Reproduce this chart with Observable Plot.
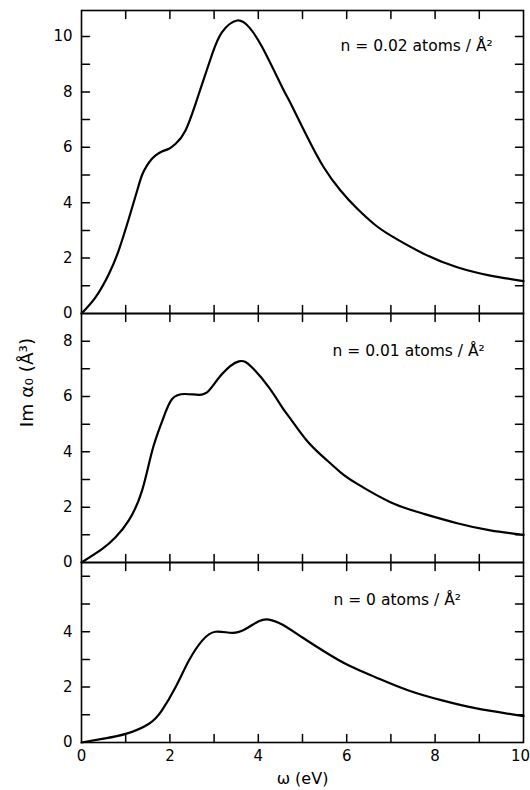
<!DOCTYPE html>
<html><head><meta charset="utf-8">
<script src="https://cdn.jsdelivr.net/npm/d3@7"></script>
<script src="https://cdn.jsdelivr.net/npm/@observablehq/plot@0.6"></script>
<style>
body{margin:0;background:#fff;}
#chart{position:relative;width:530px;height:790px;font-family:"DejaVu Sans",sans-serif;}
#chart svg{position:absolute;left:0;overflow:visible;}
</style></head><body><div id="chart"></div>
<script>
// n = 0.02 atoms/Å^2
const omega02 = [0,0.32,0.62,0.84,1.07,1.26,1.37,1.48,1.58,1.67,1.82,1.98,2.13,2.35,2.58,2.73,2.96,3.18,3.52,3.79,4.09,4.54,4.73,5.1,5.48,5.86,6.24,6.61,6.99,7.74,8.5,9.25,10];
const im02    = [0,0.59,1.43,2.27,3.42,4.44,5.0,5.34,5.56,5.70,5.85,5.95,6.13,6.6,7.57,8.29,9.38,10.16,10.58,10.34,9.61,8.17,7.59,6.4,5.28,4.44,3.78,3.24,2.82,2.16,1.67,1.37,1.17];
// n = 0.01 atoms/Å^2
const omega01 = [0,0.47,0.77,1.07,1.37,1.6,1.83,2.05,2.35,2.65,2.88,3.18,3.56,3.86,4.24,4.54,4.73,5.1,5.48,5.86,6.24,6.99,7.74,8.5,9.25,10];
const im01    = [0,0.49,0.91,1.52,2.6,4.04,5.13,5.91,6.09,6.06,6.21,6.81,7.27,7.05,6.33,5.61,5.19,4.4,3.8,3.26,2.84,2.18,1.76,1.42,1.16,1.0];
// n = 0 atoms/Å^2
const omega0 = [0,0.5,1.0,1.52,1.82,2.13,2.43,2.73,3.03,3.41,3.71,4.01,4.24,4.54,4.99,5.52,6.05,6.65,7.4,8.16,8.91,10];
const im0    = [0,0.14,0.31,0.67,1.16,2.0,2.96,3.68,4.0,3.96,4.1,4.38,4.44,4.26,3.8,3.26,2.78,2.36,1.88,1.52,1.24,0.95];

const xTicks = [1,2,3,4,5,6,7,8,9];
const xLabels = [0,2,4,6,8];
const xLabelLast = [10];
const yTicks02 = [1,2,3,4,5,6,7,8,9,10];
const yLabels02 = [0,2,4,6,8,10];
const yTicks01 = [1,2,3,4,5,6,7,8];
const yLabels01 = [0,2,4,6,8];
const yTicks0 = [1,2,3,4,5,6];
const yLabels0 = [0,2,4];
const notes = ["n = 0.02 atoms / Å²", "n = 0.01 atoms / Å²", "n = 0 atoms / Å²"];
const xTitle = "ω (eV)";
const yTitle = "Im α₀ (Å³)";

const tickShape = {draw(ctx, l) { ctx.moveTo(0, 0); ctx.lineTo(0, -l); }};
const TL = 8;

function panel({xs, ys, ymax, yTicks, yLabels, note, noteX, noteY, top, height, marginTop, marginBottom, bottom, title}) {
  const marks = [
    Plot.frame({stroke: "black", strokeWidth: 1.6}),
    Plot.axisY({ticks: yLabels, tickSize: 0, tickPadding: 9, tickFormat: d => String(d), fontSize: 15, label: null}),
    Plot.vector(yTicks, {x: 0, y: d => d, length: TL, rotate: 90, anchor: "start", shape: tickShape, stroke: "black", strokeWidth: 1.5}),
    Plot.vector(yTicks, {x: 10, y: d => d, length: TL, rotate: -90, anchor: "start", shape: tickShape, stroke: "black", strokeWidth: 1.5}),
    Plot.vector(xTicks, {x: d => d, y: ymax, length: TL, rotate: 180, anchor: "start", shape: tickShape, stroke: "black", strokeWidth: 1.5}),
    Plot.vector(xTicks, {x: d => d, y: 0, length: TL, rotate: 0, anchor: "start", shape: tickShape, stroke: "black", strokeWidth: 1.5}),
    Plot.line({length: xs.length}, {x: xs, y: ys, curve: "natural", stroke: "black", strokeWidth: 2.2}),
    Plot.text([note], {x: noteX, y: noteY, text: d => d, textAnchor: "start", lineAnchor: "middle", fontSize: 15.5, fill: "black"})
  ];
  if (bottom) {
    marks.push(Plot.axisX({ticks: xLabels, tickSize: 0, tickPadding: 8, tickFormat: d => String(d), fontSize: 15, label: null}));
    marks.push(Plot.axisX({ticks: xLabelLast, tickSize: 0, tickPadding: 8, tickFormat: d => String(d), fontSize: 15, dx: -3, label: null}));
    marks.push(Plot.text([xTitle], {frameAnchor: "bottom", dy: 36, text: d => d, textAnchor: "middle", lineAnchor: "middle", fontSize: 16, fill: "black"}));
  } else {
    marks.push(Plot.axisX({ticks: [], label: null}));
  }
  if (title) {
    marks.push(Plot.text([yTitle], {frameAnchor: "top-left", dx: -54, dy: 69, rotate: -90, text: d => d, textAnchor: "middle", lineAnchor: "middle", fontSize: 18.5, fill: "black"}));
  }
  const svg = Plot.plot({
    width: 530, height, marginLeft: 81, marginRight: 7, marginTop, marginBottom,
    x: {domain: [0, 10]},
    y: {domain: [0, ymax]},
    style: {fontFamily: "'DejaVu Sans', sans-serif", color: "black", background: "transparent"},
    marks
  });
  svg.style.top = top + "px";
  return svg;
}

const chart = document.getElementById("chart");
chart.append(panel({xs: omega02, ys: im02, ymax: 10.94, yTicks: yTicks02, yLabels: yLabels02, note: notes[0], noteX: 5.86, noteY: 9.66, top: 0, height: 313, marginTop: 10, marginBottom: 0}));
chart.append(panel({xs: omega01, ys: im01, ymax: 9, yTicks: yTicks01, yLabels: yLabels01, note: notes[1], noteX: 5.68, noteY: 7.65, top: 313, height: 249, marginTop: 0, marginBottom: 0, title: true}));
chart.append(panel({xs: omega0, ys: im0, ymax: 6.5, yTicks: yTicks0, yLabels: yLabels0, note: notes[2], noteX: 5.7, noteY: 5.14, top: 562, height: 228, marginTop: 0, marginBottom: 48, bottom: true}));
</script></body></html>
